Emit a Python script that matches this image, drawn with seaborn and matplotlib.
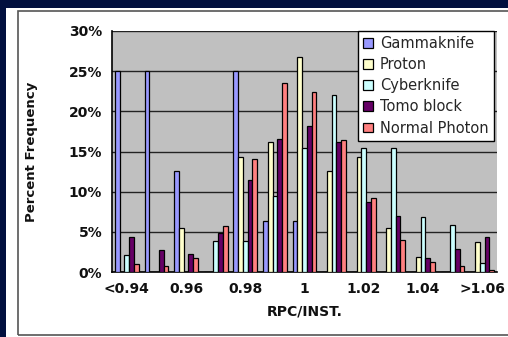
import matplotlib
matplotlib.use("Agg")
import matplotlib.pyplot as plt
import seaborn as sns
import pandas as pd
from matplotlib.patches import Rectangle
from matplotlib.ticker import FuncFormatter, FixedLocator

categories = ["<0.94", "0.95", "0.96", "0.97", "0.98", "0.99", "1",
              "1.01", "1.02", "1.03", "1.04", "1.05", ">1.06"]
tick_labels = ["<0.94", "", "0.96", "", "0.98", "", "1",
               "", "1.02", "", "1.04", "", ">1.06"]
series_names = ["Gammaknife", "Proton", "Cyberknife", "Tomo block", "Normal Photon"]
gammaknife = [25.0, 25.0, 12.6, 0.0, 25.0, 6.4, 6.4, 0.0, 0.0, 0.0, 0.0, 0.0, 0.0]
proton = [0.0, 0.0, 5.5, 0.0, 14.3, 16.2, 26.8, 12.6, 14.3, 5.5, 1.9, 0.0, 3.7]
cyberknife = [2.1, 0.0, 0.0, 3.9, 3.9, 9.5, 15.4, 22.0, 15.4, 15.4, 6.8, 5.8, 1.1]
tomo_block = [4.4, 2.8, 2.2, 4.9, 11.4, 16.6, 18.2, 16.2, 8.7, 7.0, 1.8, 2.9, 4.4]
normal_photon = [1.0, 0.7, 1.8, 5.7, 14.1, 23.5, 22.4, 16.4, 9.2, 4.0, 1.2, 0.7, 0.3]
colors = ["#9999FF", "#FFFFCC", "#CCFFFF", "#660066", "#FF8080"]

rows = []
for name, vals in zip(series_names, [gammaknife, proton, cyberknife, tomo_block, normal_photon]):
    for c, v in zip(categories, vals):
        rows.append({"cat": c, "series": name, "value": v})
df = pd.DataFrame(rows)

sns.set_style("white")
plt.rcParams["font.family"] = ["DejaVu Sans"]

W, H = 508, 337
fig = plt.figure(figsize=(W / 100, H / 100), dpi=100, facecolor="#02103F")
# white panel and its border
fig.patches.append(Rectangle((6 / W, 0), 1, 1 - 8 / H, transform=fig.transFigure,
                             facecolor="white", edgecolor="none", zorder=-3))
fig.patches.append(Rectangle((18 / W, 2 / H), 1.2, 1 - 13 / H, transform=fig.transFigure,
                             facecolor="none", edgecolor="#555555", linewidth=1.2, zorder=-2))

ax = fig.add_axes([112 / W, (H - 272) / H, (497 - 112) / W, (272 - 31) / H])
ax.set_zorder(2)
ax.set_facecolor("#C0C0C0")

sns.barplot(data=df, x="cat", y="value", hue="series", order=categories,
            hue_order=series_names, palette=colors, ax=ax, width=0.8,
            edgecolor="black", linewidth=0.9, saturation=1, zorder=3)

ax.set_ylim(0, 30)
ax.set_xlim(-0.5, len(categories) - 0.5)
ax.set_yticks([0, 5, 10, 15, 20, 25, 30])
ax.yaxis.set_major_formatter(FuncFormatter(lambda v, p: f"{int(v)}%"))
ax.yaxis.grid(True, color="#222222", linewidth=1.0, zorder=0)
ax.set_axisbelow(True)

ax.set_xticks(range(len(categories)))
ax.set_xticklabels(tick_labels)
ax.xaxis.set_minor_locator(FixedLocator([i - 0.5 for i in range(len(categories) + 1)]))
ax.tick_params(axis="x", which="major", length=0, pad=7, labelsize=10)
ax.tick_params(axis="x", which="minor", length=4, width=1, color="black", direction="out")
ax.tick_params(axis="y", which="major", length=5, width=1, color="black", direction="out",
               labelsize=10, pad=2)
for lab in ax.get_xticklabels() + ax.get_yticklabels():
    lab.set_fontweight("bold")
    lab.set_color("#111111")

for s in ["top", "right"]:
    ax.spines[s].set_visible(False)
for s in ["left", "bottom"]:
    ax.spines[s].set_color("black")
    ax.spines[s].set_linewidth(1.2)

ax.set_xlabel("RPC/INST.", fontsize=10, fontweight="bold", labelpad=6, color="#111111")
ax.set_ylabel("Percent Frequency", fontsize=9.5, fontweight="bold", color="#111111")
ax.yaxis.set_label_coords(-74 / (497 - 112), 0.5)

handles, labels = ax.get_legend_handles_labels()
leg = ax.legend(handles, labels, loc="upper left",
                bbox_to_anchor=(358 / W, 1 - 31 / H), bbox_transform=fig.transFigure,
                frameon=True, fancybox=False, framealpha=1, edgecolor="black",
                fontsize=10.5, handlelength=0.65, handleheight=0.65, handletextpad=0.5,
                labelspacing=0.42, borderpad=0.35, borderaxespad=0)
leg.get_frame().set_linewidth(1.0)
leg.set_zorder(10)

fig.savefig("out.png", dpi=100, facecolor=fig.get_facecolor())
